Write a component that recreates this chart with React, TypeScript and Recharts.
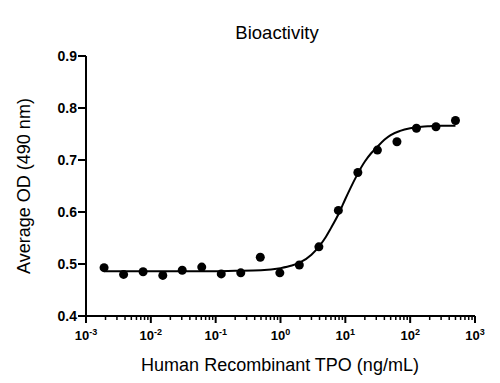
import { ComposedChart, Line, Scatter, XAxis, YAxis } from 'recharts'

// TPO dilution series (ng/mL) and averaged OD readings
const doses = [0.0019, 0.0038, 0.0076, 0.0153, 0.0305, 0.061, 0.122, 0.244, 0.488, 0.977, 1.95, 3.91, 7.81, 15.6, 31.25, 62.5, 125, 250, 500]
const meanOD = [0.493, 0.48, 0.485, 0.478, 0.488, 0.494, 0.481, 0.483, 0.513, 0.483, 0.498, 0.533, 0.603, 0.676, 0.719, 0.735, 0.761, 0.764, 0.776]

// fitted curve
const fitDoses = [0.0019, 0.01, 0.05, 0.2, 0.5, 1, 1.5, 2, 3, 4, 5, 6, 8, 10, 12, 15, 20, 25, 30, 40, 50, 70, 100, 150, 200, 300, 500]
const fitOD = [0.486, 0.486, 0.486, 0.487, 0.488, 0.492, 0.497, 0.503, 0.518, 0.535, 0.552, 0.569, 0.598, 0.625, 0.646, 0.67, 0.697, 0.713, 0.723, 0.739, 0.748, 0.756, 0.761, 0.764, 0.765, 0.766, 0.766]

const majorTicks = [0.001, 0.01, 0.1, 1, 10, 100, 1000]
const exponents = ['-3', '-2', '-1', '0', '1', '2', '3']
const minorSteps = [2, 3, 4, 5, 6, 7, 8, 9]
const yTicks = [0.4, 0.5, 0.6, 0.7, 0.8, 0.9]

const points = doses.map((x, i) => ({ x, y: meanOD[i] }))
const fit = fitDoses.map((x, i) => ({ x, y: fitOD[i] }))
const xTicks = [
  ...majorTicks,
  ...majorTicks.slice(0, -1).flatMap(d => minorSteps.map(m => Number((m * d).toPrecision(3)))),
].sort((a, b) => a - b)

const font = '"Liberation Sans", Arial, Helvetica, sans-serif'

function XTick({ x, y, payload }: any) {
  const i = majorTicks.indexOf(payload.value)
  if (i < 0) {
    return <line x1={x} x2={x} y1={y} y2={y + 4} stroke="#000" strokeWidth={1.5} />
  }
  return (
    <g>
      <line x1={x} x2={x} y1={y} y2={y + 7} stroke="#000" strokeWidth={2} />
      <text x={x} y={y + 24} textAnchor="middle" fontFamily={font} fontWeight="bold" fontSize={13} fill="#000">
        10<tspan fontSize={9} dy={-5}>{exponents[i]}</tspan>
      </text>
    </g>
  )
}

function Dot({ cx, cy }: any) {
  return <circle cx={cx} cy={cy} r={4.5} fill="#000" />
}

export default function App() {
  return (
    <div style={{ position: 'absolute', left: 0, top: 0, width: 500, height: 383, background: '#fff' }}>
      <ComposedChart width={500} height={383} margin={{ top: 56, right: 25, bottom: 37, left: 0 }}>
        <XAxis
          dataKey="x"
          type="number"
          scale="log"
          domain={[0.001, 1000]}
          allowDataOverflow
          ticks={xTicks}
          interval={0}
          height={30}
          tickSize={0}
          tickMargin={0}
          tickLine={false}
          tick={<XTick />}
          axisLine={{ stroke: '#000', strokeWidth: 2 }}
        />
        <YAxis
          type="number"
          domain={[0.4, 0.9]}
          ticks={yTicks}
          width={86}
          tickSize={8}
          tickMargin={1}
          tickFormatter={v => v.toFixed(1)}
          tickLine={{ stroke: '#000', strokeWidth: 2 }}
          axisLine={{ stroke: '#000', strokeWidth: 2 }}
          tick={{ fill: '#000', fontSize: 14, fontWeight: 'bold', fontFamily: font }}
        />
        <Line data={fit} dataKey="y" type="monotone" stroke="#000" strokeWidth={2} dot={false} isAnimationActive={false} />
        <Scatter data={points} dataKey="y" shape={<Dot />} isAnimationActive={false} />
        <text x={277} y={39} textAnchor="middle" fontFamily={font} fontSize={18.5} fill="#000">Bioactivity</text>
        <text x={280} y={371} textAnchor="middle" fontFamily={font} fontSize={18} fill="#000">Human Recombinant TPO (ng/mL)</text>
        <text x={30} y={186} textAnchor="middle" transform="rotate(-90 30 186)" fontFamily={font} fontSize={18} fill="#000">Average OD (490 nm)</text>
      </ComposedChart>
    </div>
  )
}
